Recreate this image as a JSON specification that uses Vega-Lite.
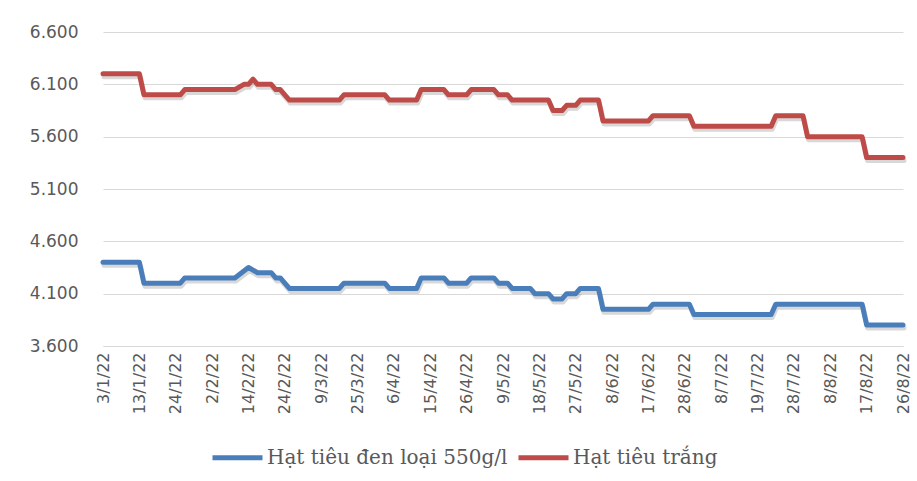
{
  "$schema": "https://vega.github.io/schema/vega-lite/v6.json",
  "width": 800,
  "height": 314,
  "autosize": {"type": "none"},
  "padding": {"left": 103, "top": 32, "right": 14, "bottom": 135},
  "background": "white",
  "config": {"view": {"stroke": null}, "font": "DejaVu Sans"},
  "data": {"values": [
    {"s": "Hạt tiêu đen loại 550g/l", "i": 0, "v": 4400},
    {"s": "Hạt tiêu đen loại 550g/l", "i": 8, "v": 4400},
    {"s": "Hạt tiêu đen loại 550g/l", "i": 9, "v": 4200},
    {"s": "Hạt tiêu đen loại 550g/l", "i": 17, "v": 4200},
    {"s": "Hạt tiêu đen loại 550g/l", "i": 18, "v": 4250},
    {"s": "Hạt tiêu đen loại 550g/l", "i": 29, "v": 4250},
    {"s": "Hạt tiêu đen loại 550g/l", "i": 32, "v": 4350},
    {"s": "Hạt tiêu đen loại 550g/l", "i": 34, "v": 4300},
    {"s": "Hạt tiêu đen loại 550g/l", "i": 37, "v": 4300},
    {"s": "Hạt tiêu đen loại 550g/l", "i": 38, "v": 4250},
    {"s": "Hạt tiêu đen loại 550g/l", "i": 39, "v": 4250},
    {"s": "Hạt tiêu đen loại 550g/l", "i": 41, "v": 4150},
    {"s": "Hạt tiêu đen loại 550g/l", "i": 52, "v": 4150},
    {"s": "Hạt tiêu đen loại 550g/l", "i": 53, "v": 4200},
    {"s": "Hạt tiêu đen loại 550g/l", "i": 62, "v": 4200},
    {"s": "Hạt tiêu đen loại 550g/l", "i": 63, "v": 4150},
    {"s": "Hạt tiêu đen loại 550g/l", "i": 69, "v": 4150},
    {"s": "Hạt tiêu đen loại 550g/l", "i": 70, "v": 4250},
    {"s": "Hạt tiêu đen loại 550g/l", "i": 75, "v": 4250},
    {"s": "Hạt tiêu đen loại 550g/l", "i": 76, "v": 4200},
    {"s": "Hạt tiêu đen loại 550g/l", "i": 80, "v": 4200},
    {"s": "Hạt tiêu đen loại 550g/l", "i": 81, "v": 4250},
    {"s": "Hạt tiêu đen loại 550g/l", "i": 86, "v": 4250},
    {"s": "Hạt tiêu đen loại 550g/l", "i": 87, "v": 4200},
    {"s": "Hạt tiêu đen loại 550g/l", "i": 89, "v": 4200},
    {"s": "Hạt tiêu đen loại 550g/l", "i": 90, "v": 4150},
    {"s": "Hạt tiêu đen loại 550g/l", "i": 94, "v": 4150},
    {"s": "Hạt tiêu đen loại 550g/l", "i": 95, "v": 4100},
    {"s": "Hạt tiêu đen loại 550g/l", "i": 98, "v": 4100},
    {"s": "Hạt tiêu đen loại 550g/l", "i": 99, "v": 4050},
    {"s": "Hạt tiêu đen loại 550g/l", "i": 101, "v": 4050},
    {"s": "Hạt tiêu đen loại 550g/l", "i": 102, "v": 4100},
    {"s": "Hạt tiêu đen loại 550g/l", "i": 104, "v": 4100},
    {"s": "Hạt tiêu đen loại 550g/l", "i": 105, "v": 4150},
    {"s": "Hạt tiêu đen loại 550g/l", "i": 109, "v": 4150},
    {"s": "Hạt tiêu đen loại 550g/l", "i": 110, "v": 3950},
    {"s": "Hạt tiêu đen loại 550g/l", "i": 120, "v": 3950},
    {"s": "Hạt tiêu đen loại 550g/l", "i": 121, "v": 4000},
    {"s": "Hạt tiêu đen loại 550g/l", "i": 129, "v": 4000},
    {"s": "Hạt tiêu đen loại 550g/l", "i": 130, "v": 3900},
    {"s": "Hạt tiêu đen loại 550g/l", "i": 147, "v": 3900},
    {"s": "Hạt tiêu đen loại 550g/l", "i": 148, "v": 4000},
    {"s": "Hạt tiêu đen loại 550g/l", "i": 167, "v": 4000},
    {"s": "Hạt tiêu đen loại 550g/l", "i": 168, "v": 3800},
    {"s": "Hạt tiêu đen loại 550g/l", "i": 176, "v": 3800},
    {"s": "Hạt tiêu trắng", "i": 0, "v": 6200},
    {"s": "Hạt tiêu trắng", "i": 8, "v": 6200},
    {"s": "Hạt tiêu trắng", "i": 9, "v": 6000},
    {"s": "Hạt tiêu trắng", "i": 17, "v": 6000},
    {"s": "Hạt tiêu trắng", "i": 18, "v": 6050},
    {"s": "Hạt tiêu trắng", "i": 29, "v": 6050},
    {"s": "Hạt tiêu trắng", "i": 31, "v": 6100},
    {"s": "Hạt tiêu trắng", "i": 32, "v": 6100},
    {"s": "Hạt tiêu trắng", "i": 33, "v": 6150},
    {"s": "Hạt tiêu trắng", "i": 34, "v": 6100},
    {"s": "Hạt tiêu trắng", "i": 37, "v": 6100},
    {"s": "Hạt tiêu trắng", "i": 38, "v": 6050},
    {"s": "Hạt tiêu trắng", "i": 39, "v": 6050},
    {"s": "Hạt tiêu trắng", "i": 41, "v": 5950},
    {"s": "Hạt tiêu trắng", "i": 52, "v": 5950},
    {"s": "Hạt tiêu trắng", "i": 53, "v": 6000},
    {"s": "Hạt tiêu trắng", "i": 62, "v": 6000},
    {"s": "Hạt tiêu trắng", "i": 63, "v": 5950},
    {"s": "Hạt tiêu trắng", "i": 69, "v": 5950},
    {"s": "Hạt tiêu trắng", "i": 70, "v": 6050},
    {"s": "Hạt tiêu trắng", "i": 75, "v": 6050},
    {"s": "Hạt tiêu trắng", "i": 76, "v": 6000},
    {"s": "Hạt tiêu trắng", "i": 80, "v": 6000},
    {"s": "Hạt tiêu trắng", "i": 81, "v": 6050},
    {"s": "Hạt tiêu trắng", "i": 86, "v": 6050},
    {"s": "Hạt tiêu trắng", "i": 87, "v": 6000},
    {"s": "Hạt tiêu trắng", "i": 89, "v": 6000},
    {"s": "Hạt tiêu trắng", "i": 90, "v": 5950},
    {"s": "Hạt tiêu trắng", "i": 98, "v": 5950},
    {"s": "Hạt tiêu trắng", "i": 99, "v": 5850},
    {"s": "Hạt tiêu trắng", "i": 101, "v": 5850},
    {"s": "Hạt tiêu trắng", "i": 102, "v": 5900},
    {"s": "Hạt tiêu trắng", "i": 104, "v": 5900},
    {"s": "Hạt tiêu trắng", "i": 105, "v": 5950},
    {"s": "Hạt tiêu trắng", "i": 109, "v": 5950},
    {"s": "Hạt tiêu trắng", "i": 110, "v": 5750},
    {"s": "Hạt tiêu trắng", "i": 120, "v": 5750},
    {"s": "Hạt tiêu trắng", "i": 121, "v": 5800},
    {"s": "Hạt tiêu trắng", "i": 129, "v": 5800},
    {"s": "Hạt tiêu trắng", "i": 130, "v": 5700},
    {"s": "Hạt tiêu trắng", "i": 147, "v": 5700},
    {"s": "Hạt tiêu trắng", "i": 148, "v": 5800},
    {"s": "Hạt tiêu trắng", "i": 154, "v": 5800},
    {"s": "Hạt tiêu trắng", "i": 155, "v": 5600},
    {"s": "Hạt tiêu trắng", "i": 167, "v": 5600},
    {"s": "Hạt tiêu trắng", "i": 168, "v": 5400},
    {"s": "Hạt tiêu trắng", "i": 176, "v": 5400}
  ]},
  "encoding": {
    "x": {
      "field": "i", "type": "quantitative",
      "scale": {"domain": [0, 176], "nice": false, "zero": false},
      "axis": {
        "title": null,
        "values": [0, 8, 16, 24, 32, 40, 48, 56, 64, 72, 80, 88, 96, 104, 112, 120, 128, 136, 144, 152, 160, 168, 176],
        "labelExpr": "['3/1/22','13/1/22','24/1/22','2/2/22','14/2/22','24/2/22','9/3/22','25/3/22','6/4/22','15/4/22','26/4/22','9/5/22','18/5/22','27/5/22','8/6/22','17/6/22','28/6/22','8/7/22','19/7/22','28/7/22','8/8/22','17/8/22','26/8/22'][round(datum.value/8)]",
        "labelAngle": -90,
        "labelFont": "DejaVu Sans",
        "labelFontSize": 16,
        "labelColor": "#595959",
        "labelPadding": 6,
        "labelOverlap": false,
        "labelBound": false,
        "labelFlush": false,
        "ticks": false,
        "grid": false,
        "domainColor": "#d9d9d9",
        "domainWidth": 1
      }
    },
    "y": {
      "field": "v", "type": "quantitative",
      "scale": {"domain": [3600, 6600], "nice": false, "zero": false},
      "axis": {
        "title": null,
        "values": [3600, 4100, 4600, 5100, 5600, 6100, 6600],
        "labelExpr": "replace(format(datum.value, ','), ',', '.')",
        "labelFont": "DejaVu Sans",
        "labelFontSize": 17,
        "labelColor": "#595959",
        "labelPadding": 25,
        "domain": false,
        "ticks": false,
        "gridColor": "#d9d9d9",
        "gridWidth": 1
      }
    }
  },
  "layer": [
    {
      "mark": {"type": "line", "stroke": "#7f7f7f", "opacity": 0.3, "strokeWidth": 5, "yOffset": 3, "xOffset": 1, "strokeJoin": "round", "strokeCap": "round"},
      "encoding": {
        "detail": {"field": "s"}
      }
    },
    {
      "mark": {"type": "line", "strokeWidth": 5, "strokeJoin": "round", "strokeCap": "round"},
      "encoding": {
        "color": {
          "field": "s", "type": "nominal",
          "scale": {"domain": ["Hạt tiêu đen loại 550g/l", "Hạt tiêu trắng"], "range": ["#4a7ebb", "#be4b48"]},
          "legend": {
            "title": null,
            "orient": "none",
            "legendX": 107,
            "legendY": 398,
            "direction": "horizontal",
            "symbolType": "stroke",
            "symbolStrokeWidth": 5,
            "symbolSize": 2500,
            "labelFont": "DejaVu Serif",
            "labelFontSize": 20,
            "labelColor": "#595959",
            "labelOffset": 2,
            "columnPadding": 0,
            "labelLimit": 400
          }
        }
      }
    }
  ]
}
